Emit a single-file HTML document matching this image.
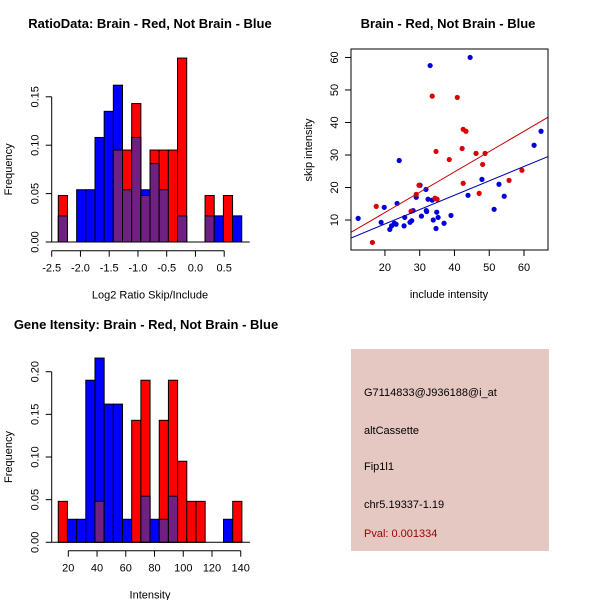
<!DOCTYPE html>
<html><head><meta charset="utf-8"><style>
body{margin:0;background:#fff}
svg{display:block;font-family:"Liberation Sans",sans-serif}
</style></head><body>
<svg id="s" width="600" height="600" viewBox="0 0 600 600"></svg>
<script>
// ratio histogram data
const ratioBinStart = -2.385;
const ratioBinWidth = 0.1595;
const ratioBlue = [0.027,0,0.054,0.054,0.108,0.135,0.162,0.054,0.108,0.054,0.081,0.054,0,0.027,0,0,0.027,0.027,0,0.027];
const ratioRed  = [0.048,0,0,0,0,0,0.095,0.095,0.143,0.048,0.095,0.095,0.095,0.19,0,0,0.048,0,0.048,0];
const ratioXTicks = [-2.5,-2.0,-1.5,-1.0,-0.5,0.0,0.5];
const ratioYTicks = [0,0.05,0.10,0.15];
// intensity histogram data
const intBinStart = 13.0;
const intBinWidth = 6.39;
const intBlue = [0,0.027,0.027,0.19,0.216,0.162,0.162,0.027,0,0.054,0.027,0.027,0.054,0,0,0,0,0,0.027,0];
const intRed  = [0.048,0,0,0,0.048,0,0,0,0.143,0.19,0,0.143,0.19,0.095,0.048,0.048,0,0,0,0.048];
const intXTicks = [20,40,60,80,100,120,140];
const intYTicks = [0,0.05,0.10,0.15,0.20];
// scatter data
const blueX = [12.3,19.8,18.9,21.4,21.9,22.7,23.2,23.5,24.1,25.5,25.7,27.2,27.7,28.1,29.0,30.1,30.5,31.8,31.9,32.0,32.4,33.0,33.6,33.9,34.7,34.9,35.3,37.0,39.0,43.9,44.5,47.9,51.4,52.8,54.3,62.9,64.9];
const blueY = [10.5,13.9,9.3,7.1,8.2,9.0,8.7,15.1,28.3,8.2,10.8,9.3,9.8,12.9,17.0,20.7,11.2,19.4,12.9,12.6,16.4,57.5,16.1,10.0,7.4,12.4,10.8,9.0,11.4,17.6,60.0,22.5,13.3,21.0,17.3,33.0,37.3];
const redX = [16.4,17.5,27.5,29.0,29.8,33.6,34.4,34.7,35.0,38.5,40.8,42.2,42.5,42.5,43.3,46.2,47.1,48.1,48.8,55.7,59.4];
const redY = [3.1,14.2,12.7,17.9,20.7,48.1,16.7,31.1,16.4,28.6,47.7,32.0,21.3,37.9,37.3,30.5,18.2,27.1,30.5,22.2,25.3];
const redFit = [-0.2,0.625];
const blueFit = [-0.05,0.442];
const scXTicks = [20,30,40,50,60];
const scYTicks = [10,20,30,40,50,60];

const S = document.getElementById('s');
const NS = 'http://www.w3.org/2000/svg';
function mk(tag, attrs, parent){const e=document.createElementNS(NS,tag);for(const k in attrs)e.setAttribute(k,attrs[k]);(parent||S).appendChild(e);return e;}
function txt(x,y,s,opts,parent){const t=mk('text',Object.assign({x:x,y:y,'font-size':11,'text-anchor':'middle'},opts||{}),parent);t.textContent=s;return t;}

function histogram(name,title,titleX,xlab,binStart,binW,blue,red,xTicks,yTicks,xs,ys,yTickFmt,axisY,left,top){
  const g=mk('g',{});
  
  
  const n=blue.length;
  for(let i=0;i<n;i++){
    const x0=xs(binStart+i*binW), x1=xs(binStart+(i+1)*binW);
    const b=blue[i], r=red[i], m=Math.min(b,r);
    if(b>0){const e=mk('rect',{x:x0,y:ys(b),width:x1-x0,height:ys(0)-ys(b),fill:'#0000ff',stroke:'#000','stroke-width':1},g);
      }
    if(r>0){const e=mk('rect',{x:x0,y:ys(r),width:x1-x0,height:ys(0)-ys(r),fill:'#ff0000',stroke:'#000','stroke-width':1},g);
      }
    if(m>0){const e=mk('rect',{x:x0,y:ys(m),width:x1-x0,height:ys(0)-ys(m),fill:'#702080',stroke:'#000','stroke-width':1},g);
      }
  }
  mk('line',{x1:left,x2:xs(binStart+n*binW)+8,y1:ys(0),y2:ys(0),stroke:'#000'},g);
  const ya=mk('g',{},g);
  mk('line',{x1:left,x2:left,y1:ys(yTicks[0]),y2:ys(yTicks[yTicks.length-1]),stroke:'#000'},ya);
  yTicks.forEach(v=>{const y=ys(v);mk('line',{x1:left-6,x2:left,y1:y,y2:y,stroke:'#000'},ya);
    txt(0,0,v.toFixed(2),{transform:`translate(${left-13},${y}) rotate(-90)`},ya);});
  const xa=mk('g',{},g);
  mk('line',{x1:xs(xTicks[0]),x2:xs(xTicks[xTicks.length-1]),y1:axisY,y2:axisY,stroke:'#000'},xa);
  xTicks.forEach(v=>{const x=xs(v);mk('line',{x1:x,x2:x,y1:axisY,y2:axisY+6,stroke:'#000'},xa);
    txt(x,axisY+21,yTickFmt(v),{},xa);});
  const t=txt(titleX,top,title,{'font-weight':'bold','font-size':13},g);
  const xl=txt(150,axisY+48,xlab,{},g);
  const yl=txt(0,0,'Frequency',{transform:`translate(12,${(ys(yTicks[0])+ys(yTicks[yTicks.length-1]))/2}) rotate(-90)`},g);
  
}

const rxs=v=>51.7+(v+2.5)*57.5;
const rys=v=>242-v*968;
histogram('ratio-histogram','RatioData: Brain - Red, Not Brain - Blue',150,'Log2 Ratio Skip/Include',
  ratioBinStart,ratioBinWidth,ratioBlue,ratioRed,ratioXTicks,ratioYTicks,rxs,rys,
  v=>v.toFixed(1),250.7,51.7,28);
const ixs=v=>68.3+(v-20)*1.437;
const iys=v=>542.3-v*853;
histogram('intensity-histogram','Gene Itensity: Brain - Red, Not Brain - Blue',146,'Intensity',
  intBinStart,intBinWidth,intBlue,intRed,intXTicks,intYTicks,ixs,iys,
  v=>String(v),550.7,51.7,329);

(function(){
  const g=mk('g',{});
  
  
  const L=351,R=548,T=49,B=250;
  const xmin=10.24,xmax=66.9,ymin=0.78,ymax=62.6;
  const xs=v=>L+(v-xmin)/(xmax-xmin)*(R-L);
  const ys=v=>B-(v-ymin)/(ymax-ymin)*(B-T);
  const defs=mk('defs',{},g);const cp=mk('clipPath',{id:'cp'},defs);mk('rect',{x:L,y:T,width:R-L,height:B-T},cp);
  const pg=mk('g',{'clip-path':'url(#cp)'},g);
  blueX.forEach((x,i)=>{const c=mk('circle',{cx:xs(x),cy:ys(blueY[i]),r:2.6,fill:'#0000dd'},pg);
    });
  redX.forEach((x,i)=>{const c=mk('circle',{cx:xs(x),cy:ys(redY[i]),r:2.6,fill:'#dd0000'},pg);
    });
  const rl=mk('line',{x1:xs(xmin),y1:ys(redFit[0]+redFit[1]*xmin),x2:xs(xmax),y2:ys(redFit[0]+redFit[1]*xmax),stroke:'#cc0000','stroke-width':1},pg);
  
  const bl=mk('line',{x1:xs(xmin),y1:ys(blueFit[0]+blueFit[1]*xmin),x2:xs(xmax),y2:ys(blueFit[0]+blueFit[1]*xmax),stroke:'#0000aa','stroke-width':1},pg);
  
  mk('rect',{x:L,y:T,width:R-L,height:B-T,fill:'none',stroke:'#000'},g);
  scXTicks.forEach(v=>{const x=xs(v);mk('line',{x1:x,x2:x,y1:B,y2:B+6,stroke:'#000'},g);txt(x,B+21,String(v),{},g);});
  scYTicks.forEach(v=>{const y=ys(v);mk('line',{x1:L-6,x2:L,y1:y,y2:y,stroke:'#000'},g);
    txt(0,0,String(v),{transform:`translate(${L-13},${y}) rotate(-90)`},g);});
  const t=txt(448,28,'Brain - Red, Not Brain - Blue',{'font-weight':'bold','font-size':13},g);
  const xl=txt(449,298,'include intensity',{},g);
  const yl=txt(0,0,'skip intensity',{transform:`translate(312,150) rotate(-90)`},g);
})();

(function(){
  const g=mk('g',{});
  
  
  mk('rect',{x:351,y:349,width:198,height:202,fill:'#e6c8c2'},g);
  const lines=[['G7114833@J936188@i_at',396,'#000','probe-id'],['altCassette',434,'#000','event-type'],['Fip1l1',470,'#000','gene-name'],['chr5.19337-1.19',508,'#000','location'],['Pval: 0.001334',537,'#a00000','p-value']];
  lines.forEach(l=>{const t=txt(364,l[1],l[0],{'text-anchor':'start',fill:l[2]},g);
    });
})();
</script>
</body></html>
